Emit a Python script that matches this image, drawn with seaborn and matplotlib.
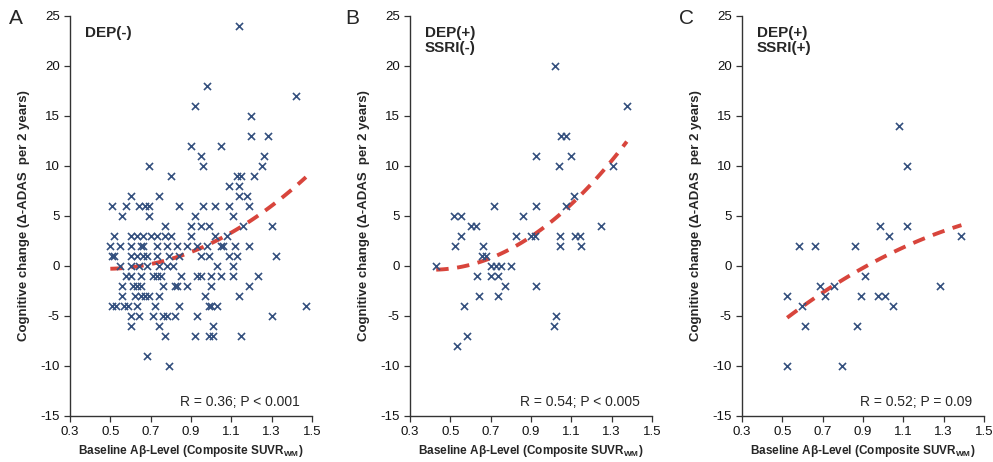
import numpy as np
import pandas as pd
import matplotlib
matplotlib.use("Agg")
import matplotlib.pyplot as plt
import seaborn as sns

# --- data (x = baseline SUVR, y = change in ADAS) ---
dep_neg_x = [1.14, 0.98, 1.42, 0.92, 1.20, 1.20, 1.28, 0.90, 1.05, 0.95, 1.26,
             0.69, 0.96, 1.25, 0.80, 1.13, 1.15, 1.21, 1.09, 1.14,
             0.60, 0.74, 1.14, 1.18,
             0.51, 0.58, 0.64, 0.67, 0.69, 0.84, 0.96, 1.02, 1.09, 1.19,
             0.56, 0.69, 0.92, 1.11,
             0.77, 0.90, 0.95, 0.99, 1.16, 1.30,
             0.52, 0.60, 0.63, 0.66, 0.70, 0.73, 0.77, 0.80, 0.90, 1.02, 1.08,
             0.50, 0.55, 0.60, 0.65, 0.66, 0.73, 0.78, 0.83, 0.88, 0.93, 0.98, 1.05, 1.06, 1.12, 1.19,
             0.51, 0.52, 0.60, 0.63, 0.66, 0.68, 0.73, 0.79, 0.84, 0.95, 0.99, 1.09, 1.13, 1.32,
             0.55, 0.60, 0.64, 0.68, 0.74, 0.78, 0.81, 1.03, 1.11,
             0.58, 0.60, 0.65, 0.71, 0.73, 0.75, 0.85, 0.93, 0.95, 1.00, 1.05, 1.11, 1.23,
             0.56, 0.61, 0.63, 0.65, 0.76, 0.82, 0.83, 0.88, 1.00, 1.19,
             0.56, 0.62, 0.65, 0.67, 0.69, 0.74, 0.97, 1.14,
             0.51, 0.53, 0.57, 0.59, 0.63, 0.72, 0.84, 0.99, 1.00, 1.03, 1.47,
             0.60, 0.64, 0.71, 0.76, 0.78, 0.82, 0.93, 1.30,
             0.60, 0.74, 1.01,
             0.77, 0.92, 0.99, 1.01, 1.15,
             0.68, 0.79]
dep_neg_y = [24, 18, 17, 16, 15, 13, 13, 12, 12, 11, 11,
             10, 10, 10, 9, 9, 9, 9, 8, 8,
             7, 7, 7, 7,
             6, 6, 6, 6, 6, 6, 6, 6, 6, 6,
             5, 5, 5, 5,
             4, 4, 4, 4, 4, 4,
             3, 3, 3, 3, 3, 3, 3, 3, 3, 3, 3,
             2, 2, 2, 2, 2, 2, 2, 2, 2, 2, 2, 2, 2, 2, 2,
             1, 1, 1, 1, 1, 1, 1, 1, 1, 1, 1, 1, 1, 1,
             0, 0, 0, 0, 0, 0, 0, 0, 0,
             -1, -1, -1, -1, -1, -1, -1, -1, -1, -1, -1, -1, -1,
             -2, -2, -2, -2, -2, -2, -2, -2, -2, -2,
             -3, -3, -3, -3, -3, -3, -3, -3,
             -4, -4, -4, -4, -4, -4, -4, -4, -4, -4, -4,
             -5, -5, -5, -5, -5, -5, -5, -5,
             -6, -6, -6,
             -7, -7, -7, -7, -7,
             -9, -10]

ssri_neg_x = [1.02, 1.375, 1.047, 1.075, 0.925, 1.097, 1.037, 1.308, 1.112,
              0.717, 0.925, 1.072, 0.517, 0.555, 0.858, 0.60, 0.625, 1.247,
              0.555, 0.825, 0.90, 0.92, 1.042, 1.117, 1.145,
              0.525, 0.663, 1.042, 1.15, 0.655, 0.675,
              0.43, 0.70, 0.725, 0.75, 0.80, 0.63, 0.70, 0.738,
              0.772, 0.925, 0.642, 0.738, 0.567, 1.025, 1.013, 0.583, 0.533]
ssri_neg_y = [20, 16, 13, 13, 11, 11, 10, 10, 7,
              6, 6, 6, 5, 5, 5, 4, 4, 4,
              3, 3, 3, 3, 3, 3, 3,
              2, 2, 2, 2, 1, 1,
              0, 0, 0, 0, 0, -1, -1, -1,
              -2, -2, -3, -3, -4, -5, -6, -7, -8]

ssri_pos_x = [1.077, 1.119, 0.986, 1.119, 1.028, 1.388, 0.582, 0.662, 0.86,
              0.911, 0.687, 0.757, 0.524, 0.712, 0.89, 0.973, 1.009, 1.283,
              0.596, 1.051, 0.612, 0.87, 0.524, 0.798]
ssri_pos_y = [14, 10, 4, 4, 3, 3, 2, 2, 2,
              -1, -2, -2, -3, -3, -3, -3, -3, -2,
              -4, -4, -6, -6, -10, -10]

panels = [
    ("A", ["DEP(-)"], dep_neg_x, dep_neg_y, "R = 0.36; P < 0.001"),
    ("B", ["DEP(+)", "SSRI(-)"], ssri_neg_x, ssri_neg_y, "R = 0.54; P < 0.005"),
    ("C", ["DEP(+)", "SSRI(+)"], ssri_pos_x, ssri_pos_y, "R = 0.52; P = 0.09"),
]
x_ticks = ["0.3", "0.5", "0.7", "0.9", "1.1", "1.3", "1.5"]

sns.set_style("ticks")
plt.rcParams['font.family'] = ['Liberation Sans', 'DejaVu Sans']
plt.rcParams['mathtext.fontset'] = 'custom'
plt.rcParams['mathtext.rm'] = 'Liberation Sans'
plt.rcParams['mathtext.bf'] = 'Liberation Sans:bold'
plt.rcParams['axes.unicode_minus'] = False

point_color = "#34507e"
line_color = "#d8453c"
axis_color = "#333333"

fig = plt.figure(figsize=(9.93, 4.62), dpi=100)
lefts = [70 / 993, 410 / 993, 742 / 993]
letter_x = [16 / 993, 352 / 993, 687 / 993]

for i, (letter, title, xs, ys, stat) in enumerate(panels):
    ax = fig.add_axes([lefts[i], 46 / 462, 242 / 993, 400 / 462])
    df = pd.DataFrame({"suvr": xs, "adas": ys})
    sns.scatterplot(data=df, x="suvr", y="adas", marker="x", s=26, color=point_color,
                    linewidth=1.2, ax=ax, zorder=3)
    # quadratic trend line, like the spreadsheet trendline in the original
    sns.regplot(data=df, x="suvr", y="adas", order=2, ci=None, scatter=False, ax=ax,
                line_kws={"color": line_color, "lw": 2.8, "ls": (0, (3.2, 2.2)),
                          "zorder": 2})

    ax.set_xlim(0.3, 1.5)
    ax.set_ylim(-15, 25)
    ax.set_xticks(np.arange(0.3, 1.51, 0.2))
    ax.set_xticklabels(x_ticks)
    ax.set_yticks(range(-15, 26, 5))
    ax.tick_params(labelsize=9.5, length=4, width=0.9, color=axis_color, labelcolor="#111111")
    for side in ["top", "right"]:
        ax.spines[side].set_visible(False)
    for side in ["left", "bottom"]:
        ax.spines[side].set_color(axis_color)
        ax.spines[side].set_linewidth(1.0)

    ax.set_ylabel("Cognitive change (\u0394-ADAS  per 2 years)", fontsize=9.5, fontweight="bold")
    ax.yaxis.set_label_coords(-0.165, 0.5)
    ax.set_xlabel("Baseline A\u03b2-Level (Composite SUVR$_{\\mathbf{WM}}$)",
                  fontsize=8.5, fontweight="bold")
    ax.xaxis.set_label_coords(0.5, -0.068)

    ax.text(0.06, 0.975, "\n".join(title), transform=ax.transAxes, ha="left", va="top",
            fontsize=11, fontweight="bold", linespacing=1.1)
    ax.text(0.95, 0.035, stat, transform=ax.transAxes, ha="right", va="center", fontsize=10)
    fig.text(letter_x[i], 0.96, letter, fontsize=15, ha="center", va="center")

fig.savefig("out.png", dpi=100)
